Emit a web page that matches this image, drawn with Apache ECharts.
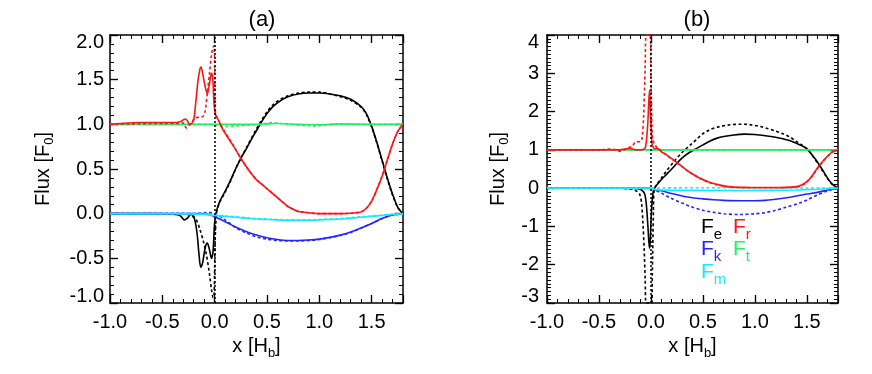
<!DOCTYPE html>
<html>
<head>
<meta charset="utf-8">
<script src="https://cdn.jsdelivr.net/npm/echarts@6/dist/echarts.min.js"></script>
<style>
  html, body { margin: 0; padding: 0; background: #fff; }
  #main { width: 872px; height: 374px; }
</style>
</head>
<body>
<div id="main"></div>
<script>
// panel titles and axis ranges
const panelTitles = ['(a)', '(b)'];
const xRange = [-1.0, 1.8];
const yRangeA = [-1.0, 2.0];
const yRangeB = [-3, 4];
const zeroLine = 0;

// panel (a) curves, [x, y]
const aFeSolid = [[-1,0],[-0.6,0],[-0.4,-0.005],[-0.33,-0.02],[-0.29,-0.07],[-0.26,-0.05],[-0.23,-0.01],[-0.2,-0.03],[-0.17,-0.2],[-0.15,-0.45],[-0.133,-0.6],[-0.115,-0.55],[-0.09,-0.38],[-0.07,-0.33],[-0.05,-0.4],[-0.03,-0.5],[-0.015,-0.42],[0,-0.1],[0.02,0.04],[0.05,0.14],[0.1,0.25],[0.15,0.37],[0.2,0.5],[0.25,0.62],[0.3,0.72],[0.35,0.83],[0.4,0.93],[0.45,1.03],[0.5,1.12],[0.55,1.19],[0.6,1.24],[0.65,1.28],[0.7,1.31],[0.8,1.34],[0.9,1.35],[1.0,1.35],[1.1,1.34],[1.2,1.32],[1.3,1.28],[1.4,1.2],[1.45,1.12],[1.5,0.98],[1.55,0.8],[1.6,0.6],[1.65,0.4],[1.7,0.22],[1.75,0.07],[1.8,0.0]];
const aFeDash = [[-1,0],[-0.3,0],[-0.25,-0.01],[-0.2,-0.04],[-0.17,-0.08],[-0.14,-0.18],[-0.11,-0.3],[-0.08,-0.45],[-0.05,-0.67],[-0.03,-0.85],[-0.015,-0.94],[-0.005,-0.9],[0.005,-0.3],[0.02,0.02],[0.05,0.13],[0.1,0.24],[0.15,0.36],[0.2,0.5],[0.25,0.62],[0.3,0.73],[0.35,0.84],[0.4,0.95],[0.45,1.05],[0.5,1.14],[0.55,1.21],[0.6,1.26],[0.7,1.32],[0.8,1.35],[0.9,1.36],[1.0,1.36],[1.1,1.34],[1.2,1.31],[1.3,1.27],[1.4,1.19],[1.45,1.11],[1.5,0.97],[1.55,0.79],[1.6,0.59],[1.65,0.39],[1.7,0.21],[1.75,0.07],[1.8,0.0]];
const aFrSolid = [[-1,1.0],[-0.9,1.01],[-0.7,1.02],[-0.5,1.02],[-0.4,1.02],[-0.33,1.03],[-0.3,1.05],[-0.28,1.06],[-0.26,1.04],[-0.24,1.0],[-0.22,1.01],[-0.2,1.05],[-0.18,1.25],[-0.16,1.48],[-0.14,1.62],[-0.13,1.64],[-0.115,1.57],[-0.09,1.42],[-0.07,1.34],[-0.05,1.45],[-0.035,1.56],[-0.025,1.57],[-0.015,1.45],[-0.005,1.22],[0.01,1.1],[0.04,1.04],[0.07,0.96],[0.1,0.9],[0.15,0.81],[0.2,0.72],[0.25,0.62],[0.3,0.53],[0.35,0.45],[0.4,0.38],[0.45,0.33],[0.5,0.28],[0.55,0.23],[0.6,0.18],[0.65,0.13],[0.7,0.08],[0.75,0.05],[0.8,0.025],[0.9,0.01],[1.0,0.0],[1.2,0.0],[1.3,0.005],[1.35,0.01],[1.4,0.02],[1.45,0.06],[1.5,0.14],[1.55,0.27],[1.6,0.42],[1.65,0.6],[1.7,0.78],[1.75,0.92],[1.8,1.0]];
const aFrDash = [[-1,1.0],[-0.5,1.01],[-0.35,1.01],[-0.31,1.02],[-0.29,0.99],[-0.27,0.96],[-0.25,0.98],[-0.22,1.02],[-0.19,1.07],[-0.15,1.08],[-0.11,1.09],[-0.09,1.15],[-0.07,1.35],[-0.05,1.56],[-0.03,1.78],[-0.015,1.86],[-0.005,1.88],[0.003,1.3],[0.01,1.12],[0.04,1.04],[0.07,0.97],[0.1,0.91],[0.15,0.82],[0.2,0.72],[0.25,0.62],[0.3,0.53],[0.35,0.45],[0.4,0.38],[0.45,0.33],[0.5,0.28],[0.55,0.23],[0.6,0.18],[0.65,0.13],[0.7,0.08],[0.75,0.05],[0.8,0.025],[0.9,0.01],[1.0,0.0],[1.2,0.0],[1.3,0.005],[1.35,0.01],[1.4,0.02],[1.45,0.06],[1.5,0.14],[1.55,0.27],[1.6,0.42],[1.65,0.6],[1.7,0.78],[1.75,0.92],[1.8,1.0]];
const aFtSolid = [[-1,1.0],[-0.5,1.0],[0,1.0],[0.3,1.0],[0.5,1.005],[0.6,1.01],[0.8,1.0],[1.0,0.995],[1.2,1.005],[1.5,1.0],[1.8,1.0]];
const aFtDash = [[-1,1.0],[-0.1,1.0],[0,0.995],[0.05,0.98],[0.1,0.975],[0.2,0.98],[0.3,0.99],[0.45,1.0],[0.55,1.02],[0.62,1.01],[0.75,0.995],[0.9,0.985],[0.95,0.98],[1.05,0.99],[1.2,1.0],[1.5,1.0],[1.8,1.0]];
const aFkSolid = [[-1,0],[-0.2,0],[-0.1,-0.005],[-0.05,-0.01],[0,-0.035],[0.05,-0.06],[0.1,-0.09],[0.2,-0.15],[0.3,-0.2],[0.4,-0.24],[0.5,-0.27],[0.6,-0.29],[0.7,-0.3],[0.8,-0.3],[0.9,-0.295],[1.0,-0.285],[1.1,-0.265],[1.2,-0.24],[1.3,-0.205],[1.4,-0.16],[1.5,-0.11],[1.6,-0.055],[1.7,-0.015],[1.8,0]];
const aFkDash = [[-1,0],[-0.3,0],[-0.2,0.0],[-0.12,0.01],[-0.05,0.012],[0,0.0],[0.05,-0.03],[0.1,-0.07],[0.2,-0.155],[0.3,-0.215],[0.4,-0.26],[0.5,-0.285],[0.6,-0.3],[0.7,-0.305],[0.8,-0.305],[0.9,-0.3],[1.0,-0.29],[1.1,-0.27],[1.2,-0.245],[1.3,-0.21],[1.4,-0.16],[1.5,-0.11],[1.6,-0.055],[1.7,-0.015],[1.8,0]];
const aFmSolid = [[-1,0],[-0.4,0],[-0.2,-0.005],[-0.1,-0.01],[0,-0.02],[0.1,-0.03],[0.2,-0.04],[0.3,-0.05],[0.4,-0.06],[0.5,-0.065],[0.6,-0.07],[0.7,-0.075],[0.8,-0.075],[0.9,-0.075],[1.0,-0.07],[1.1,-0.065],[1.2,-0.06],[1.3,-0.05],[1.4,-0.04],[1.5,-0.03],[1.6,-0.02],[1.7,-0.01],[1.8,0]];
const aFmDash = [[-1,0],[-0.3,0],[-0.1,0.0],[0,-0.01],[0.1,-0.025],[0.2,-0.035],[0.3,-0.045],[0.4,-0.055],[0.5,-0.06],[0.6,-0.065],[0.7,-0.07],[0.8,-0.07],[0.9,-0.07],[1.0,-0.065],[1.1,-0.06],[1.2,-0.055],[1.3,-0.045],[1.4,-0.035],[1.5,-0.025],[1.6,-0.015],[1.7,-0.005],[1.8,0]];

// panel (b) curves; the dotted F_e and F_r spikes run off the frame, kept at its edge
const bFeSolid = [[-1,0],[-0.3,0],[-0.15,-0.005],[-0.11,-0.02],[-0.08,-0.07],[-0.06,-0.15],[-0.045,-0.4],[-0.03,-0.95],[-0.02,-1.4],[-0.013,-1.57],[-0.006,-1.35],[0.0,-0.9],[0.01,-0.4],[0.02,-0.12],[0.03,-0.02],[0.05,0.06],[0.1,0.22],[0.15,0.36],[0.2,0.5],[0.25,0.65],[0.31,0.81],[0.37,0.93],[0.44,1.04],[0.5,1.13],[0.57,1.23],[0.63,1.3],[0.7,1.35],[0.8,1.39],[0.9,1.41],[1.0,1.4],[1.1,1.37],[1.2,1.33],[1.27,1.29],[1.34,1.24],[1.4,1.17],[1.45,1.11],[1.5,1.03],[1.55,0.87],[1.6,0.69],[1.65,0.48],[1.69,0.3],[1.73,0.15],[1.77,0.05],[1.8,0.0]];
const bFeDash = [[-1,0],[-0.4,0],[-0.2,-0.02],[-0.15,-0.06],[-0.11,-0.15],[-0.09,-0.4],[-0.077,-0.9],[-0.065,-1.6],[-0.055,-2.4],[-0.047,-3.0],[0.008,-3.0],[0.013,-2.3],[0.018,-1.5],[0.024,-0.6],[0.03,-0.1],[0.05,0.07],[0.1,0.26],[0.15,0.45],[0.22,0.69],[0.3,0.93],[0.38,1.13],[0.45,1.3],[0.5,1.42],[0.57,1.53],[0.65,1.6],[0.75,1.65],[0.86,1.67],[0.95,1.66],[1.05,1.61],[1.12,1.56],[1.2,1.49],[1.27,1.42],[1.34,1.33],[1.4,1.22],[1.45,1.13],[1.5,1.03],[1.55,0.86],[1.6,0.67],[1.65,0.46],[1.69,0.29],[1.73,0.14],[1.77,0.04],[1.8,0.0]];
const bFrSolid = [[-1,1.0],[-0.5,1.0],[-0.3,1.0],[-0.25,1.02],[-0.2,1.04],[-0.15,1.0],[-0.1,1.0],[-0.06,1.03],[-0.045,1.2],[-0.03,1.7],[-0.02,2.3],[-0.013,2.56],[-0.005,2.0],[0.005,1.4],[0.015,1.1],[0.04,1.03],[0.06,1.04],[0.1,0.95],[0.15,0.87],[0.2,0.77],[0.28,0.61],[0.35,0.46],[0.4,0.37],[0.47,0.26],[0.55,0.17],[0.63,0.1],[0.7,0.06],[0.8,0.03],[0.9,0.02],[1.0,0.015],[1.2,0.015],[1.3,0.02],[1.4,0.04],[1.45,0.08],[1.5,0.17],[1.55,0.32],[1.6,0.52],[1.65,0.69],[1.7,0.84],[1.75,0.95],[1.8,1.0]];
const bFrDash = [[-1,1.0],[-0.5,1.0],[-0.4,1.02],[-0.33,1.0],[-0.3,0.96],[-0.27,0.98],[-0.22,1.05],[-0.18,1.1],[-0.15,1.2],[-0.1,1.22],[-0.085,1.3],[-0.07,1.9],[-0.055,3.2],[-0.045,4.0],[-0.008,4.0],[0.0,3.0],[0.01,1.6],[0.02,1.25],[0.04,1.12],[0.06,1.06],[0.1,0.97],[0.15,0.86],[0.2,0.76],[0.28,0.6],[0.35,0.46],[0.4,0.37],[0.47,0.26],[0.55,0.16],[0.63,0.09],[0.7,0.05],[0.8,0.02],[0.9,0.01],[1.0,0.01],[1.2,0.01],[1.3,0.015],[1.4,0.03],[1.45,0.07],[1.5,0.16],[1.55,0.31],[1.6,0.5],[1.65,0.68],[1.7,0.83],[1.75,0.95],[1.8,1.0]];
const bFtSolid = [[-1,1.0],[-0.5,1.0],[0,1.0],[0.5,1.0],[1.0,1.0],[1.5,1.0],[1.8,1.0]];
const bFtDash = [[-1,1.0],[-0.3,1.0],[0,1.0],[0.05,0.99],[0.2,1.0],[1.0,1.0],[1.5,1.0],[1.8,1.0]];
const bFkSolid = [[-1,0],[-0.1,0],[0,-0.01],[0.03,-0.04],[0.1,-0.07],[0.2,-0.14],[0.31,-0.21],[0.4,-0.25],[0.5,-0.28],[0.6,-0.305],[0.7,-0.32],[0.86,-0.33],[1.0,-0.33],[1.1,-0.32],[1.2,-0.29],[1.27,-0.265],[1.35,-0.23],[1.45,-0.18],[1.5,-0.155],[1.6,-0.11],[1.7,-0.05],[1.8,0]];
const bFkDash = [[-1,0],[-0.1,0],[0,0.0],[0.03,-0.04],[0.1,-0.13],[0.19,-0.26],[0.3,-0.39],[0.38,-0.48],[0.5,-0.58],[0.6,-0.63],[0.7,-0.67],[0.86,-0.69],[1.0,-0.67],[1.1,-0.64],[1.2,-0.58],[1.3,-0.5],[1.43,-0.39],[1.5,-0.31],[1.6,-0.18],[1.7,-0.07],[1.8,0]];
const bFmSolid = [[-1,0],[-0.1,0],[0,-0.02],[0.05,-0.04],[0.1,-0.05],[0.3,-0.055],[0.6,-0.06],[0.9,-0.06],[1.2,-0.055],[1.4,-0.05],[1.5,-0.04],[1.6,-0.03],[1.7,-0.015],[1.8,0]];
const bFmDash = [[-1,0],[0,0],[0.1,0.005],[0.5,0.01],[1.0,0.01],[1.5,0.005],[1.8,0]];

// legend entries of panel (b): subscripts, which also key the colours
const legendSubs = ['e', 'r', 'k', 't', 'm'];

const FONT = 'Liberation Sans';
const C = { e: '#000000', r: '#ff1414', k: '#2424ff', t: '#20f060', m: '#18e8ff' };

const chart = echarts.init(document.getElementById('main'));

function fmt1(v) { return v.toFixed(1); }

const panelRects = [[110, 35, 293, 268], [547, 35, 291, 268]];
const majorTick = { show: true, inside: true, length: 8, lineStyle: { color: '#000', width: 1.2 } };
const minorTickStyle = { show: true, inside: true, length: 4, lineStyle: { color: '#000', width: 1 } };
const nameStyle = {
  color: '#000', fontFamily: FONT,
  rich: {
    n: { fontSize: 20, lineHeight: 26, fontFamily: FONT, color: '#000' },
    s: { fontSize: 13, lineHeight: 13, verticalAlign: 'bottom', fontFamily: FONT, color: '#000' }
  }
};

// bottom/top x axes: major ones carry labels, minor ones only short ticks
function xAxes(g) {
  const base = {
    gridIndex: g, type: 'value', min: xRange[0], max: xRange[1],
    splitLine: { show: false }
  };
  return [
    Object.assign({}, base, {
      position: 'bottom', interval: 0.5,
      axisLine: { show: true, onZero: false, lineStyle: { color: '#000', width: 1.5 } },
      axisTick: majorTick,
      axisLabel: {
        color: '#000', fontFamily: FONT, fontSize: 20, margin: 9, showMaxLabel: false,
        formatter: function (v) { return Math.abs(v * 2 - Math.round(v * 2)) < 1e-6 ? fmt1(v) : ''; }
      },
      name: '{n|x [H}{s|b}{n|]}', nameLocation: 'middle', nameGap: 29, nameTextStyle: nameStyle
    }),
    Object.assign({}, base, {
      position: 'bottom', interval: 0.1,
      axisLine: { show: false, onZero: false },
      axisTick: minorTickStyle,
      axisLabel: { show: false }
    }),
    Object.assign({}, base, {
      position: 'top', interval: 0.5,
      axisLine: { show: true, onZero: false, lineStyle: { color: '#000', width: 1.5 } },
      axisTick: majorTick,
      axisLabel: { show: false }
    }),
    Object.assign({}, base, {
      position: 'top', interval: 0.1,
      axisLine: { show: false, onZero: false },
      axisTick: minorTickStyle,
      axisLabel: { show: false }
    })
  ];
}

// the end labels sit inside the frame: padding shifts them off the corner
function yAxes(g, range, interval, minorSplit, textFmt, margin, nameGap) {
  const base = {
    gridIndex: g, type: 'value', min: range[0], max: range[1], interval: interval,
    splitLine: { show: false },
    minorTick: { show: true, splitNumber: minorSplit, length: 4, lineStyle: { color: '#000', width: 1 } },
    axisTick: majorTick,
    axisLine: { show: true, onZero: false, lineStyle: { color: '#000', width: 1.5 } }
  };
  const lab = { fontSize: 20, fontFamily: FONT, color: '#000' };
  return [
    Object.assign({}, base, {
      position: 'left',
      axisLabel: {
        color: '#000', fontFamily: FONT, fontSize: 20, margin: margin,
        formatter: function (v) {
          const t = textFmt(v);
          if (Math.abs(v - range[1]) < 1e-9) return '{hi|' + t + '}';
          if (Math.abs(v - range[0]) < 1e-9) return '{lo|' + t + '}';
          return t;
        },
        rich: {
          hi: Object.assign({ padding: [14, 0, 0, 0] }, lab),
          lo: Object.assign({ padding: [0, 0, 14, 0] }, lab)
        }
      },
      name: '{n|Flux [F}{s|0}{n|]}', nameLocation: 'middle', nameGap: nameGap, nameTextStyle: nameStyle
    }),
    Object.assign({}, base, { position: 'right', axisLabel: { show: false } })
  ];
}

// inward ticks along all four frame sides, drawn as split lines of thin strips
// that share the panel's scale (8 px for major ticks, 4 px for minor ones)
const tickGrids = [], tickX = [], tickY = [];
function addTickStrips(rect, yRange, yMajor) {
  const L = rect[0], T = rect[1], W = rect[2], H = rect[3];
  const strips = [
    [L, T + H - 8, W, 8, 'x', 0.5, 1.2], [L, T + H - 4, W, 4, 'x', 0.1, 1],
    [L, T, W, 8, 'x', 0.5, 1.2], [L, T, W, 4, 'x', 0.1, 1],
    [L, T, 8, H, 'y', yMajor, 1.2], [L, T, 4, H, 'y', 0.1, 1],
    [L + W - 8, T, 8, H, 'y', yMajor, 1.2], [L + W - 4, T, 4, H, 'y', 0.1, 1]
  ];
  strips.forEach(function (s) {
    const gi = 2 + tickGrids.length;
    tickGrids.push({ left: s[0], top: s[1], width: s[2], height: s[3] });
    const ticked = {
      gridIndex: gi, type: 'value', interval: s[5], silent: true,
      axisLine: { show: false }, axisTick: { show: false }, axisLabel: { show: false },
      splitLine: { show: true, lineStyle: { color: '#000', width: s[6], type: 'solid' } }
    };
    const hidden = { gridIndex: gi, type: 'value', show: false };
    if (s[4] === 'x') {
      tickX.push(Object.assign({ min: xRange[0], max: xRange[1] }, ticked));
      tickY.push(hidden);
    } else {
      tickY.push(Object.assign({ min: yRange[0], max: yRange[1] }, ticked));
      tickX.push(hidden);
    }
  });
}
addTickStrips(panelRects[0], yRangeA, 0.5);
addTickStrips(panelRects[1], yRangeB, 1);

function curve(data, color, dashed, xi, yi) {
  return {
    type: 'line', data: data, xAxisIndex: xi, yAxisIndex: yi,
    showSymbol: false, smooth: 0.3,
    lineStyle: { color: color, width: 1.6, type: dashed ? [3, 2.5] : 'solid' }
  };
}

function panelSeries(sets, xi, yi) {
  const out = [];
  sets.forEach(function (s) {
    out.push(curve(s[1], C[s[0]], true, xi, yi));
    out.push(curve(s[2], C[s[0]], false, xi, yi));
  });
  // vertical dotted marker at x = 0
  out.push({
    type: 'line', data: [], xAxisIndex: xi, yAxisIndex: yi,
    markLine: {
      symbol: 'none', silent: true, label: { show: false },
      lineStyle: { color: '#000', width: 1.5, type: [2, 2] },
      data: [{ xAxis: zeroLine }]
    }
  });
  return out;
}

// drawing order: green below red so the red dotted line stays visible along y = 1
const seriesA = panelSeries([
  ['e', aFeDash, aFeSolid], ['k', aFkDash, aFkSolid], ['m', aFmDash, aFmSolid],
  ['t', aFtDash, aFtSolid], ['r', aFrDash, aFrSolid]
], 0, 0);
const seriesB = panelSeries([
  ['e', bFeDash, bFeSolid], ['k', bFkDash, bFkSolid], ['m', bFmDash, bFmSolid],
  ['t', bFtDash, bFtSolid], ['r', bFrDash, bFrSolid]
], 4, 2);

// legend text in panel (b)
const legendPos = [[701, 212.5], [733, 212.5], [701, 234.5], [733, 234.5], [701, 257.5]];
const legendGraphics = legendSubs.map(function (sub, i) {
  return {
    type: 'text', x: legendPos[i][0], y: legendPos[i][1], silent: true,
    style: {
      text: '{F|F}{s|' + sub + '}',
      fill: C[sub],
      rich: {
        F: { fontSize: 21, lineHeight: 30, fontFamily: FONT, fill: C[sub] },
        s: { fontSize: 15, lineHeight: 15, verticalAlign: 'bottom', fontFamily: FONT, fill: C[sub] }
      }
    }
  };
});

chart.setOption({
  animation: false,
  backgroundColor: '#ffffff',
  title: [
    { text: panelTitles[0], left: 257, top: 4, textAlign: 'center',
      textStyle: { fontFamily: FONT, fontSize: 22, fontWeight: 'normal', color: '#000' } },
    { text: panelTitles[1], left: 692, top: 4, textAlign: 'center',
      textStyle: { fontFamily: FONT, fontSize: 22, fontWeight: 'normal', color: '#000' } }
  ],
  grid: panelRects.map(function (r) {
    return { left: r[0], top: r[1], width: r[2], height: r[3] };
  }).concat(tickGrids),
  xAxis: xAxes(0).concat(xAxes(1), tickX),
  yAxis: yAxes(0, yRangeA, 0.5, 5, fmt1, 6, 54).concat(
         yAxes(1, yRangeB, 1, 10, function (v) { return String(v); }, 8, 36), tickY),
  series: seriesA.concat(seriesB),
  graphic: legendGraphics
});
</script>
</body>
</html>
